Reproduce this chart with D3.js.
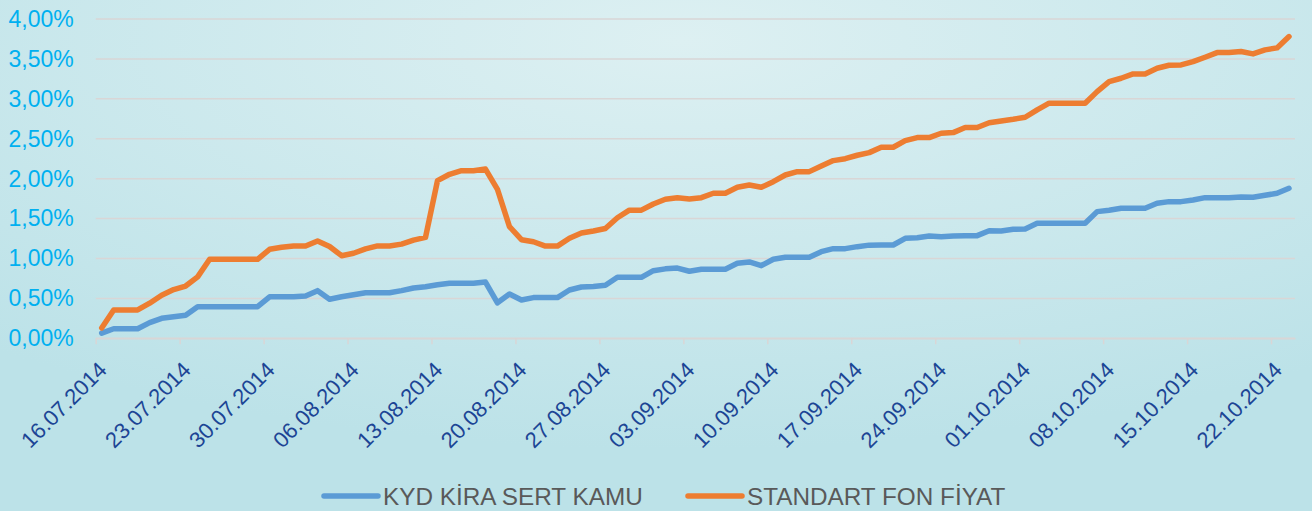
<!DOCTYPE html>
<html>

<head>
    <meta charset="utf-8">
    <title>KYD KİRA SERT KAMU / STANDART FON FİYAT</title>
    <style>
        body { margin: 0; }
        svg { display: block; }
    </style>
</head>

<body>

<main></main>

<script src="https://cdn.jsdelivr.net/npm/d3@7/dist/d3.min.js"></script>
<script>
    // tick labels on the date axis (weekly)
    var tickLabels = ["16.07.2014", "23.07.2014", "30.07.2014", "06.08.2014", "13.08.2014",
        "20.08.2014", "27.08.2014", "03.09.2014", "10.09.2014", "17.09.2014",
        "24.09.2014", "01.10.2014", "08.10.2014", "15.10.2014", "22.10.2014"];

    var firstDay = "16.07.2014",
        lastDay = "23.10.2014";

    var yTicks = [0, 0.5, 1, 1.5, 2, 2.5, 3, 3.5, 4];

    var seriesNames = ["KYD KİRA SERT KAMU", "STANDART FON FİYAT"];

    // daily values in %, 16.07.2014 .. 23.10.2014
    var kydValues = [
        0.065, 0.12, 0.12, 0.12, 0.196, 0.25, 0.27, 0.29, 0.396, 0.396,
        0.396, 0.396, 0.396, 0.396, 0.52, 0.52, 0.52, 0.53, 0.597, 0.49,
        0.52, 0.546, 0.571, 0.571, 0.571, 0.597, 0.63, 0.645, 0.67, 0.69,
        0.69, 0.69, 0.705, 0.445, 0.555, 0.48, 0.51, 0.51, 0.51, 0.605,
        0.643, 0.65, 0.664, 0.764, 0.764, 0.764, 0.847, 0.87, 0.88, 0.84,
        0.865, 0.865, 0.865, 0.94, 0.956, 0.91, 0.99, 1.015, 1.015, 1.015,
        1.085, 1.123, 1.123, 1.148, 1.167, 1.169, 1.169, 1.253, 1.26, 1.282,
        1.273, 1.282, 1.286, 1.286, 1.348, 1.345, 1.366, 1.37, 1.441, 1.441,
        1.441, 1.441, 1.441, 1.587, 1.604, 1.629, 1.629, 1.629, 1.692, 1.712,
        1.712, 1.733, 1.762, 1.762, 1.762, 1.771, 1.767, 1.792, 1.817, 1.88
    ];

    var standartValues = [
        0.13, 0.355, 0.355, 0.355, 0.44, 0.54, 0.61, 0.655, 0.77, 0.99,
        0.99, 0.99, 0.99, 0.99, 1.115, 1.14, 1.157, 1.157, 1.22, 1.15,
        1.035, 1.065, 1.12, 1.157, 1.157, 1.18, 1.23, 1.265, 1.975, 2.055,
        2.10, 2.10, 2.12, 1.865, 1.40, 1.235, 1.21, 1.155, 1.155, 1.253,
        1.32, 1.345, 1.375, 1.51, 1.605, 1.605, 1.683, 1.742, 1.76, 1.746,
        1.762, 1.817, 1.817, 1.892, 1.92, 1.892, 1.962, 2.046, 2.088, 2.088,
        2.159, 2.226, 2.25, 2.293, 2.326, 2.393, 2.393, 2.476, 2.514, 2.514,
        2.569, 2.577, 2.64, 2.64, 2.70, 2.723, 2.744, 2.769, 2.861, 2.945,
        2.945, 2.945, 2.945, 3.09, 3.216, 3.258, 3.312, 3.312, 3.383, 3.421,
        3.425, 3.466, 3.521, 3.579, 3.579, 3.592, 3.563, 3.613, 3.638, 3.78
    ];

    var colors = ["#5b9bd5", "#ed7d31"];

    var width = 1312,
        height = 511;
    var margin = {left: 95.7, right: 17, top: 19, bottom: 172.7};

    var parse = d3.timeParse("%d.%m.%Y");
    var days = d3.timeDay.range(parse(firstDay), d3.timeDay.offset(parse(lastDay), 1));

    var svg = d3.select("main").append("svg")
        .attr("width", width).attr("height", height)
        .style("font-family", "'Liberation Sans', Arial, sans-serif");

    // background
    var defs = svg.append("defs");
    var grad = defs.append("radialGradient")
        .attr("id", "bg")
        .attr("cx", "52%").attr("cy", "8%").attr("r", "80%")
        .attr("gradientUnits", "objectBoundingBox");
    grad.append("stop").attr("offset", "0%").attr("stop-color", "#ddf0f2");
    grad.append("stop").attr("offset", "100%").attr("stop-color", "#bce2e8");
    svg.append("rect")
        .attr("width", width).attr("height", height)
        .attr("fill", "url(#bg)");

    var x = d3.scaleTime()
        .domain([days[0], d3.timeDay.offset(days[days.length - 1], 1)])
        .range([margin.left, width - margin.right]);
    var y = d3.scaleLinear()
        .domain([0, 4])
        .range([height - margin.bottom, margin.top]);

    var comma = d3.formatLocale({decimal: ",", thousands: ".", grouping: [3], currency: ["", ""]});
    var pct = comma.format(".2f");

    // grid
    svg.append("g")
        .selectAll("line")
        .data(yTicks)
        .enter().append("line")
        .attr("x1", x.range()[0]).attr("x2", x.range()[1])
        .attr("y1", function (d) { return y(d); })
        .attr("y2", function (d) { return y(d); })
        .attr("stroke", "#d9d6d6")
        .attr("stroke-width", 1.5);

    // y axis labels
    var yAxis = svg.append("g")
        .attr("transform", "translate(" + (margin.left - 22) + ",0)")
        .call(d3.axisLeft(y).tickValues(yTicks).tickSize(0).tickPadding(0)
            .tickFormat(function (d) { return pct(d) + "%"; }));
    yAxis.select(".domain").remove();
    yAxis.selectAll("text")
        .attr("fill", "#00b0f0")
        .style("font-size", "23px");

    // x axis
    var tickDates = tickLabels.map(parse);
    var xAxis = svg.append("g")
        .attr("transform", "translate(0," + y(0) + ")")
        .call(d3.axisBottom(x).tickValues(tickDates).tickSize(6).tickSizeOuter(0)
            .tickFormat(d3.timeFormat("%d.%m.%Y")));
    xAxis.select(".domain").attr("stroke", "#d9d6d6").attr("stroke-width", 1.5);
    xAxis.selectAll(".tick line").attr("stroke", "#d9d6d6").attr("stroke-width", 1.5);
    xAxis.selectAll(".tick text")
        .attr("fill", "#1c4595")
        .style("font-size", "22px")
        .attr("text-anchor", "end")
        .attr("y", 0).attr("dy", 0)
        .attr("transform", "translate(12,33) rotate(-45)");

    // lines
    var line = d3.line()
        .x(function (d) { return x(d3.timeHour.offset(d.date, 12)); })
        .y(function (d) { return y(d.value); });

    [kydValues, standartValues].forEach(function (vals, k) {
        var pts = vals.map(function (v, i) { return {date: days[i], value: v}; });
        svg.append("path")
            .datum(pts)
            .attr("fill", "none")
            .attr("stroke", colors[k])
            .attr("stroke-width", 5.5)
            .attr("stroke-linejoin", "round")
            .attr("stroke-linecap", "round")
            .attr("d", line);
    });

    // legend
    var legendX = [324, 688];
    var legend = svg.append("g").selectAll("g")
        .data(seriesNames)
        .enter().append("g")
        .attr("transform", function (d, i) { return "translate(" + legendX[i] + ",496)"; });
    legend.append("line")
        .attr("x1", 0).attr("x2", 54)
        .attr("stroke", function (d, i) { return colors[i]; })
        .attr("stroke-width", 5.5)
        .attr("stroke-linecap", "round");
    legend.append("text")
        .attr("x", 59)
        .attr("dy", "0.36em")
        .attr("fill", "#595959")
        .style("font-size", "24.3px")
        .text(function (d) { return d; });
</script>
</body>

</html>
